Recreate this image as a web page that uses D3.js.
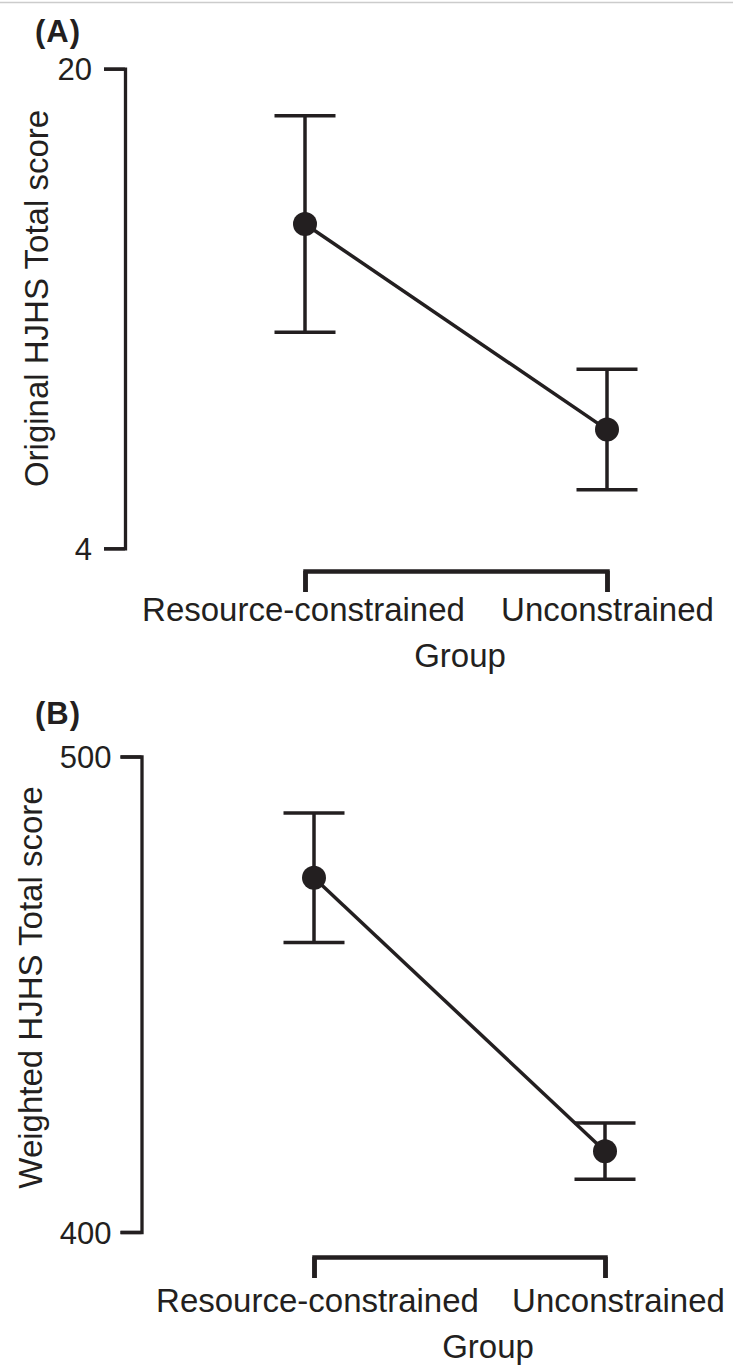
<!DOCTYPE html>
<html>
<head>
<meta charset="utf-8">
<script src="https://cdn.jsdelivr.net/npm/d3@7"></script>
<style>
  body { margin: 0; background: #fff; }
  svg { display: block; }
</style>
</head>
<body>
<svg id="chart" width="733" height="1368"></svg>
<script>
// DATA
const groups = ["Resource-constrained", "Unconstrained"];

// panel A - original HJHS total score (mean +/- error)
const originalMean = [14.82, 7.96];
const originalErr = [3.61, 2.01];
const originalTicks = [4, 20];

// panel B - weighted HJHS total score
const weightedMean = [474.5, 417.0];
const weightedErr = [13.6, 5.9];
const weightedTicks = [400, 500];

const ink = "#231f20";
const font = "'Liberation Sans', Arial, Helvetica, sans-serif";

const svg = d3.select("#chart");

// thin grey rule along the top
svg.append("line")
    .attr("x1", 0).attr("x2", 733)
    .attr("y1", 2.5).attr("y2", 2.5)
    .attr("stroke", "#cccccc")
    .attr("stroke-width", 1.5);

const panels = [
    {
        tag: "(A)", tagY: 42,
        title: "Original HJHS Total score", titleX: 48, titleY: 298.5,
        mean: originalMean, err: originalErr, ticks: originalTicks,
        yRange: [548.3, 68.7], axisX: 125, tickPad: 12,
        xRange: [305, 607], bracketY: 571, labelY: 621, labelDx: [-2, 0],
        groupX: 460, groupY: 667
    },
    {
        tag: "(B)", tagY: 724,
        title: "Weighted HJHS Total score", titleX: 42, titleY: 987.5,
        mean: weightedMean, err: weightedErr, ticks: weightedTicks,
        yRange: [1232, 756.5], axisX: 141.5, tickPad: 9,
        xRange: [314, 605], bracketY: 1257, labelY: 1312, labelDx: [3, 13],
        groupX: 488, groupY: 1358
    }
];

panels.forEach(drawPanel);

function drawPanel(p) {
    const y = d3.scaleLinear()
        .domain(d3.extent(p.ticks))
        .range(p.yRange);

    const x = d3.scalePoint()
        .domain(groups)
        .range(p.xRange);

    const g = svg.append("g");

    // panel tag
    g.append("text")
        .attr("x", 35)
        .attr("y", p.tagY)
        .attr("font-family", font)
        .attr("font-weight", "bold")
        .attr("font-size", 31)
        .attr("letter-spacing", 1)
        .attr("fill", ink)
        .text(p.tag);

    // y axis (bracket shaped)
    const ya = g.append("g")
        .attr("transform", `translate(${p.axisX},0)`)
        .call(d3.axisLeft(y).tickValues(p.ticks).tickSize(21).tickPadding(p.tickPad).tickFormat(d3.format("d")))
        .attr("font-family", font)
        .attr("font-size", 31);
    ya.select(".domain").attr("stroke", ink).attr("stroke-width", 3.3);
    ya.selectAll(".tick line").attr("stroke", ink).attr("stroke-width", 3.3);
    ya.selectAll(".tick text").attr("fill", ink).attr("dy", "0.36em");

    g.append("text")
        .attr("transform", "rotate(-90)")
        .attr("x", -p.titleY)
        .attr("y", p.titleX)
        .attr("text-anchor", "middle")
        .attr("font-family", font)
        .attr("font-size", 33)
        .attr("fill", ink)
        .text(p.title);

    // x bracket
    const xa = g.append("g")
        .attr("transform", `translate(0,${p.bracketY})`)
        .call(d3.axisBottom(x).tickSizeInner(21).tickSizeOuter(21))
        .attr("font-family", font)
        .attr("font-size", 33);
    xa.select(".domain").attr("stroke", ink).attr("stroke-width", 4.5);
    xa.selectAll(".tick line").attr("stroke", ink).attr("stroke-width", 4.5);
    xa.selectAll(".tick text")
        .attr("fill", ink)
        .attr("y", p.labelY - p.bracketY)
        .attr("dy", 0)
        .attr("dx", (d, i) => p.labelDx[i]);

    g.append("text")
        .attr("x", p.groupX)
        .attr("y", p.groupY)
        .attr("text-anchor", "middle")
        .attr("font-family", font)
        .attr("font-size", 33)
        .attr("fill", ink)
        .text("Group");

    const pts = groups.map((k, i) => ({ k, m: p.mean[i], e: p.err[i] }));
    const cap = 30.5;

    // error bars
    const eb = g.selectAll(".err").data(pts).join("g")
        .attr("stroke", ink)
        .attr("stroke-width", 3.5);
    eb.append("line")
        .attr("x1", d => x(d.k)).attr("x2", d => x(d.k))
        .attr("y1", d => y(d.m - d.e)).attr("y2", d => y(d.m + d.e));
    eb.append("line")
        .attr("x1", d => x(d.k) - cap).attr("x2", d => x(d.k) + cap)
        .attr("y1", d => y(d.m + d.e)).attr("y2", d => y(d.m + d.e));
    eb.append("line")
        .attr("x1", d => x(d.k) - cap).attr("x2", d => x(d.k) + cap)
        .attr("y1", d => y(d.m - d.e)).attr("y2", d => y(d.m - d.e));

    // connecting line
    g.append("path")
        .datum(pts)
        .attr("fill", "none")
        .attr("stroke", ink)
        .attr("stroke-width", 3.5)
        .attr("d", d3.line().x(d => x(d.k)).y(d => y(d.m)));

    g.selectAll(".pt").data(pts).join("circle")
        .attr("cx", d => x(d.k))
        .attr("cy", d => y(d.m))
        .attr("r", 12)
        .attr("fill", ink);
}
</script>
</body>
</html>
